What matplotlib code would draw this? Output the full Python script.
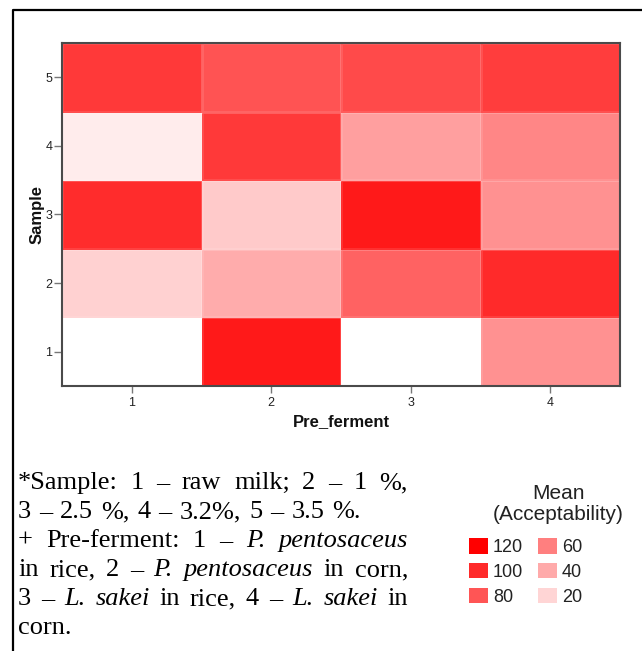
import numpy as np
import matplotlib
matplotlib.use("Agg")
import matplotlib.pyplot as plt
import matplotlib.patches as mpatches
from matplotlib.colors import LinearSegmentedColormap
from matplotlib.lines import Line2D

# ── Data ───────────────────────────────────────────────────────────────────────
pre_ferment = [1, 2, 3, 4]
samples = [1, 2, 3, 4, 5]
# mean acceptability, one row per sample (1..5), one column per pre-ferment (1..4)
acc_s1 = [0, 108, 0, 52]
acc_s2 = [22, 39, 74, 100]
acc_s3 = [99, 25, 108, 52]
acc_s4 = [9, 93, 45, 57]
acc_s5 = [93, 81, 85, 91]
legend_levels = [120, 100, 80, 60, 40, 20]

W, H = 642, 651
plt.rcParams["font.family"] = ["Liberation Sans", "DejaVu Sans"]

def fx(x):
    return x / W

def fy(y):
    return 1 - y / H

cmap = LinearSegmentedColormap.from_list("wr", ["#ffffff", "#ff0000"])
norm = plt.Normalize(0, 120)

fig = plt.figure(figsize=(W / 100, H / 100), dpi=100)
fig.patch.set_facecolor("white")

# frame of the figure box (left + top edges visible)
fig.add_artist(Line2D([fx(13), fx(13), fx(642)], [fy(651), fy(10), fy(10)],
                      color="black", lw=1.6, transform=fig.transFigure))

# ── Heatmap ────────────────────────────────────────────────────────────────────
ax = fig.add_axes([fx(62), fy(386), (620 - 62) / W, (386 - 43) / H])
grid = np.array([acc_s1, acc_s2, acc_s3, acc_s4, acc_s5])
xe = np.arange(len(pre_ferment) + 1) + 0.5
ye = np.arange(len(samples) + 1) + 0.5
ax.pcolormesh(xe, ye, grid, cmap=cmap, norm=norm,
              edgecolors=(1, 1, 1, 0.1), linewidth=0.8)
ax.set_xlim(0.5, 4.5)
ax.set_ylim(0.5, 5.5)
ax.set_xticks(pre_ferment)
ax.set_yticks(samples)
for s in ax.spines.values():
    s.set_color("#4a4a4a")
    s.set_linewidth(1.5)
ax.tick_params(axis="x", length=5, width=1, color="#777777", labelsize=9,
               labelcolor="#222222", pad=3)
ax.tick_params(axis="y", length=6, width=1, color="#777777", labelsize=9,
               labelcolor="#222222", pad=1)
ax.set_xlabel("Pre_ferment", fontsize=12, fontweight="bold", color="#111111")
ax.xaxis.set_label_coords(0.5, (386 - 414) / 343)
ax.set_ylabel("Sample", fontsize=12, fontweight="bold", color="#111111")
ax.yaxis.set_label_coords((45 - 62) / 558, 0.5)

# ── Legend ─────────────────────────────────────────────────────────────────────
fig.text(fx(558), fy(504), "Mean\n(Acceptability)", ha="center", va="center",
         fontsize=15, color="#222222", linespacing=1.15)
handles = [mpatches.Patch(facecolor=cmap(norm(v)), edgecolor="none", label=str(v))
           for v in legend_levels]
fig.legend(handles=handles, ncol=2, frameon=False, loc="upper left",
           bbox_to_anchor=(fx(469), fy(538)), borderpad=0, borderaxespad=0,
           fontsize=13, handlelength=1.05, handleheight=0.95,
           handletextpad=0.28, columnspacing=0.8, labelspacing=0.38,
           labelcolor="#222222")

# ── Footnote text (justified) ──────────────────────────────────────────────────
note_lines = [
    ("*Sample: 1 – raw milk; 2 – 1 %,", [], True),
    ("3 – 2.5 %, 4 – 3.2%, 5 – 3.5 %.", [], False),
    ("+ Pre-ferment: 1 – P. pentosaceus", ["P.", "pentosaceus"], True),
    ("in rice, 2 – P. pentosaceus in corn,", ["P.", "pentosaceus"], True),
    ("3 – L. sakei in rice, 4 – L. sakei in", ["L.", "sakei"], True),
    ("corn.", [], False),
]
LEFT, RIGHT = 18, 408
FS = 19
SERIF = ["Liberation Serif", "DejaVu Serif"]

renderer = fig.canvas.get_renderer()
probe1 = fig.text(0, 0, "a a", fontsize=FS, family=SERIF)
probe2 = fig.text(0, 0, "aa", fontsize=FS, family=SERIF)
space_w = (probe1.get_window_extent(renderer).width
           - probe2.get_window_extent(renderer).width)
probe1.remove()
probe2.remove()

for i, (line, italics, justify) in enumerate(note_lines):
    base = 489 + 29 * i
    words = line.split(" ")
    arts = [fig.text(0, fy(base), w, fontsize=FS, family=SERIF,
                     style="italic" if w in italics else "normal",
                     va="baseline", color="black") for w in words]
    widths = [a.get_window_extent(renderer).width for a in arts]
    if justify and len(words) > 1:
        gap = (RIGHT - LEFT - sum(widths)) / (len(words) - 1)
    else:
        gap = space_w * 1.2
    x = LEFT
    for a, w in zip(arts, widths):
        a.set_x(fx(x))
        x += w + gap

fig.savefig("out.png", dpi=100, facecolor="white")
